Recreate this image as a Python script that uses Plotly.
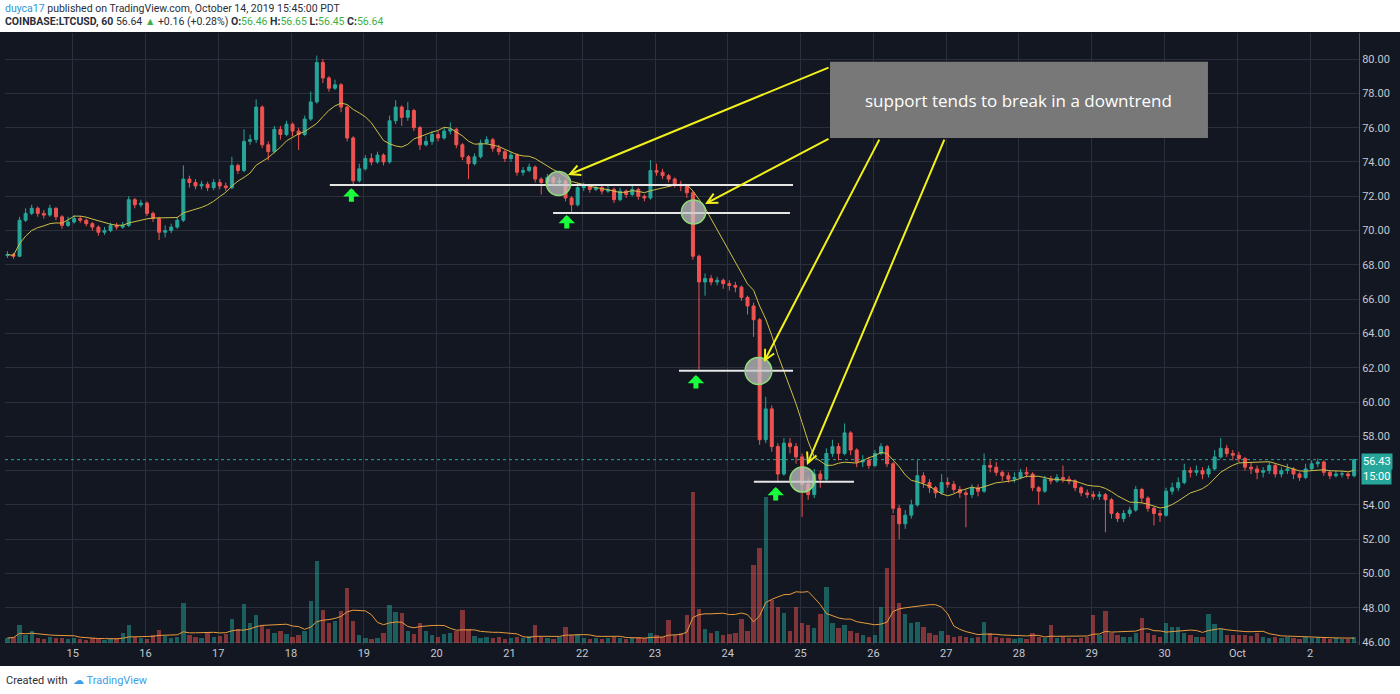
import pandas as pd
import plotly.graph_objects as go

# ---------------- data (2-hour candles, LTCUSD) ----------------
first_open = 68.55
closes = [
    # Sep 14 (02:00 .. 22:00)
    68.6, 68.5, 70.6, 71.0, 71.3, 71.0, 70.9, 71.3, 70.8, 70.3, 70.5,
    # Sep 15
    70.7, 70.6, 70.4, 70.2, 69.9, 70.0, 70.3, 70.2, 70.3, 71.8, 71.5, 71.6,
    # Sep 16
    71.0, 70.7, 69.9, 70.0, 70.2, 70.6, 73.0, 72.8, 72.6, 72.7, 72.5, 72.8,
    # Sep 17
    72.6, 72.5, 73.8, 73.5, 75.2, 75.3, 77.2, 75.0, 74.6, 75.9, 75.6, 76.2,
    # Sep 18
    75.8, 75.6, 76.5, 77.5, 79.8, 78.9, 78.3, 78.5, 77.2, 75.4, 72.9, 73.6,
    # Sep 19
    74.2, 74.0, 74.4, 74.0, 76.4, 77.2, 76.6, 77.0, 76.0, 75.0, 75.2, 75.6,
    # Sep 20
    75.4, 75.8, 75.9, 75.0, 74.3, 73.9, 74.3, 75.1, 75.3, 74.8, 74.6, 74.2,
    # Sep 21
    74.4, 73.4, 73.5, 73.7, 73.0, 72.8, 73.1, 72.8, 72.9, 71.9, 71.5, 72.5,
    # Sep 22
    72.6, 72.4, 72.5, 72.3, 72.4, 71.8, 72.3, 72.1, 72.4, 72.0, 71.9, 73.5,
    # Sep 23
    73.4, 73.2, 73.0, 72.7, 72.6, 72.2, 68.5, 67.0, 67.2, 67.0, 67.1, 66.9,
    # Sep 24
    66.8, 66.7, 66.1, 65.6, 64.8, 57.8, 59.6, 57.4, 55.8, 57.6, 57.4, 56.8,
    # Sep 25
    55.2, 54.6, 55.8, 55.5, 57.0, 57.4, 57.0, 58.2, 57.2, 56.5, 56.6, 56.3,
    # Sep 26
    57.0, 57.4, 56.4, 53.8, 52.9, 53.4, 54.0, 55.7, 55.3, 55.0, 54.7, 55.3,
    # Sep 27
    55.2, 54.9, 54.7, 54.6, 55.0, 54.8, 56.3, 56.2, 55.9, 55.7, 55.5, 55.6,
    # Sep 28
    55.9, 55.8, 55.0, 54.8, 55.5, 55.4, 55.6, 55.5, 55.4, 55.0, 54.7, 54.6,
    # Sep 29
    54.5, 54.6, 54.3, 53.5, 53.2, 53.5, 53.7, 54.9, 54.4, 53.8, 53.5, 53.4,
    # Sep 30
    54.8, 55.0, 55.3, 56.0, 55.9, 56.0, 55.8, 56.1, 56.8, 57.3, 57.0, 56.9,
    # Oct 1
    56.7, 56.2, 56.1, 55.9, 56.0, 56.3, 55.8, 56.0, 56.1, 55.8, 55.6, 56.1,
    # Oct 2 (00:00 .. 14:00)
    56.4, 56.5, 55.9, 55.7, 55.8, 55.8, 55.7, 56.64,
]
highs = [
    68.8, 68.7, 70.8, 71.3, 71.5, 71.4, 71.2, 71.5, 71.35, 70.9, 70.8,
    70.9, 70.85, 70.7, 70.5, 70.3, 70.2, 70.45, 70.45, 70.5, 72.0, 71.9, 71.8,
    71.7, 71.1, 70.8, 70.3, 70.4, 70.8, 73.8, 73.2, 73.0, 72.9, 72.85, 73.0,
    73.0, 72.8, 74.3, 73.9, 75.9, 75.6, 77.65, 77.3, 75.2, 76.1, 76.1, 76.4,
    76.3, 76.0, 76.7, 78.1, 80.2, 80.0, 79.0, 78.8, 78.6, 77.3, 75.5, 73.9,
    74.4, 74.5, 74.6, 74.5, 76.7, 77.6, 77.3, 77.5, 77.1, 76.1, 75.5, 75.8,
    75.8, 76.0, 76.3, 76.0, 75.1, 74.4, 74.5, 75.3, 75.5, 75.4, 75.0, 74.7,
    74.6, 74.5, 73.7, 73.9, 73.8, 73.1, 73.3, 73.2, 73.1, 73.0, 72.0, 72.8,
    72.8, 72.7, 72.7, 72.6, 72.6, 72.5, 72.5, 72.4, 72.6, 72.5, 72.1, 74.1,
    73.9, 73.6, 73.3, 73.1, 72.9, 72.7, 72.3, 68.6, 67.5, 67.4, 67.3, 67.2,
    67.1, 67.0, 66.8, 66.2, 65.8, 64.9, 60.3, 59.8, 57.6, 57.9, 57.9, 57.6,
    57.0, 55.6, 56.1, 56.0, 57.3, 57.8, 57.6, 58.75, 58.3, 57.3, 56.9, 56.8,
    57.2, 57.6, 57.5, 56.5, 54.0, 53.7, 54.3, 56.6, 55.9, 55.5, 55.1, 55.8,
    55.6, 55.4, 55.1, 54.9, 55.2, 55.2, 57.0, 56.6, 56.5, 56.0, 55.9, 55.9,
    56.1, 56.2, 55.9, 55.1, 55.7, 55.7, 55.8, 56.3, 55.7, 55.5, 55.1, 54.9,
    54.8, 54.8, 54.7, 54.4, 53.6, 53.7, 53.9, 55.1, 55.0, 54.5, 53.9, 53.7,
    55.0, 55.3, 55.6, 56.4, 56.2, 56.3, 56.2, 56.3, 57.2, 57.9, 57.5, 57.2,
    57.1, 56.8, 56.5, 56.3, 56.2, 56.5, 56.4, 56.2, 56.4, 56.2, 55.9, 56.4,
    56.6, 56.7, 56.6, 56.0, 56.0, 56.0, 55.9, 56.7,
]
lows = [
    68.4, 68.35, 68.45, 70.5, 70.9, 70.8, 70.7, 70.8, 70.6, 70.1, 70.2,
    70.4, 70.45, 70.25, 70.0, 69.7, 69.75, 69.9, 70.05, 70.1, 70.2, 71.3, 71.35,
    70.85, 70.5, 69.45, 69.6, 69.85, 70.1, 70.5, 72.5, 72.4, 72.4, 72.3, 72.35,
    72.4, 72.3, 72.4, 73.3, 73.4, 75.0, 75.1, 74.8, 74.1, 74.5, 75.3, 75.5,
    75.5, 74.7, 75.5, 76.4, 77.4, 78.6, 78.1, 78.2, 76.9, 75.2, 72.65, 72.8,
    73.5, 73.8, 73.9, 73.8, 73.9, 76.2, 76.1, 76.4, 75.8, 74.7, 74.9, 75.0,
    75.2, 75.3, 75.6, 74.8, 74.1, 73.0, 73.8, 74.2, 75.0, 74.6, 74.4, 74.0,
    74.0, 73.2, 73.2, 73.4, 72.8, 72.1, 72.6, 72.6, 72.6, 71.7, 71.1, 71.4,
    72.3, 72.2, 72.3, 72.1, 72.2, 71.6, 71.7, 71.9, 72.0, 71.8, 71.7, 71.8,
    73.2, 73.0, 72.8, 72.5, 72.3, 71.9, 68.3, 61.9, 66.2, 66.8, 66.8, 66.6,
    66.5, 66.4, 65.9, 65.1, 63.8, 57.5, 57.6, 57.1, 55.3, 55.7, 57.0, 56.4,
    53.3, 54.3, 54.4, 55.0, 55.4, 56.8, 56.6, 56.9, 56.9, 56.2, 56.2, 56.1,
    56.2, 56.9, 56.2, 53.5, 52.0, 52.6, 53.2, 53.9, 55.0, 54.7, 54.4, 54.6,
    55.0, 54.7, 54.4, 52.7, 54.4, 54.5, 54.7, 55.9, 55.7, 55.4, 55.3, 55.3,
    55.5, 55.6, 54.8, 54.0, 54.7, 55.2, 55.3, 55.3, 55.2, 54.8, 54.5, 54.4,
    54.3, 54.3, 52.4, 53.2, 53.0, 53.0, 53.3, 53.6, 54.1, 53.6, 52.8, 53.0,
    53.3, 54.6, 54.8, 55.2, 55.6, 55.7, 55.5, 55.6, 56.0, 56.7, 56.8, 56.6,
    56.5, 56.0, 55.8, 55.5, 55.6, 55.8, 55.6, 55.6, 55.8, 55.5, 55.4, 55.5,
    56.0, 56.2, 55.7, 55.5, 55.6, 55.6, 55.5, 55.6,
]
volumes = [
    5, 6, 18, 8, 12, 5, 4, 6, 5, 5, 4,
    5, 4, 3, 5, 4, 3, 4, 5, 10, 18, 6, 5,
    4, 8, 13, 7, 5, 6, 40, 8, 6, 5, 11, 6,
    7, 9, 24, 14, 39, 20, 28, 18, 14, 10, 12, 9,
    6, 8, 12, 42, 82, 33, 20, 22, 32, 55, 22, 8,
    5, 4, 5, 10, 38, 31, 30, 12, 9, 20, 12, 8,
    6, 9, 10, 12, 33, 14, 7, 5, 6, 5, 6, 4,
    5, 6, 5, 7, 18, 6, 5, 4, 6, 16, 8, 9,
    5, 4, 5, 4, 5, 6, 5, 4, 5, 6, 5, 10,
    8, 6, 23, 8, 10, 28, 151, 34, 14, 10, 12, 8,
    9, 10, 24, 12, 78, 95, 146, 43, 36, 30, 12, 36,
    20, 18, 15, 29, 56, 20, 15, 18, 12, 10, 8, 6,
    8, 36, 75, 128, 40, 29, 20, 21, 16, 10, 8, 12,
    8, 6, 7, 6, 5, 6, 21, 10, 6, 5, 5, 4,
    5, 4, 10, 6, 5, 18, 5, 6, 5, 4, 5, 6,
    28, 8, 32, 10, 8, 6, 6, 10, 25, 10, 8, 6,
    20, 16, 16, 10, 8, 6, 6, 29, 19, 14, 8, 8,
    8, 8, 7, 10, 6, 5, 6, 5, 6, 5, 4, 6,
    5, 6, 5, 4, 5, 4, 4, 6,
]

day_ticks = pd.date_range("2019-09-15", "2019-10-02", freq="D")
day_labels = ["15", "16", "17", "18", "19", "20", "21", "22", "23", "24", "25",
              "26", "27", "28", "29", "30", "Oct", "2"]
price_ticks = [46, 48, 50, 52, 54, 56, 58, 60, 62, 64, 66, 68, 70, 72, 74, 76, 78, 80]
hidden_tick = 56
last_label = "56.43"
last_label_y = 56.55
timer_label = "15:00"

# support lines drawn by the author: (start, end, price)
supports = [
    ("2019-09-18 12:48", "2019-09-24 21:30", 72.65),
    ("2019-09-21 14:24", "2019-09-24 20:30", 71.02),
    ("2019-09-23 07:54", "2019-09-24 21:30", 61.83),
    ("2019-09-24 08:36", "2019-09-25 17:36", 55.35),
]
# highlighted circles: (x0, x1, y0, y1)
circles = [
    ("2019-09-21 12:12", "2019-09-21 20:12", 72.04, 73.44),
    ("2019-09-23 08:42", "2019-09-23 16:42", 70.38, 71.78),
    ("2019-09-24 05:42", "2019-09-24 14:30", 61.02, 62.60),
    ("2019-09-24 20:30", "2019-09-25 04:42", 54.75, 56.21),
]
# green up-arrows: tip (time, price)
green_arrows = [
    ("2019-09-18 19:54", 72.47),
    ("2019-09-21 18:54", 70.90),
    ("2019-09-23 13:30", 61.57),
    ("2019-09-24 15:48", 55.04),
]
# yellow arrows: (tail time, tail price, tip time, tip price)
yellow_arrows = [
    ("2019-09-25 09:42", 79.54, "2019-09-21 19:18", 73.24),
    ("2019-09-25 09:42", 75.39, "2019-09-23 16:30", 71.55),
    ("2019-09-26 02:12", 75.39, "2019-09-24 11:54", 62.33),
    ("2019-09-26 23:36", 75.39, "2019-09-25 02:06", 56.33),
]
note_box = ("2019-09-25 09:42", "2019-09-30 14:18", 75.39, 79.84)
note_text = "support tends to break in a downtrend"
note_pos = ("2019-09-28 00:00", 77.61)

# ---------------- build ----------------
n = min(len(closes), len(highs), len(lows), len(volumes))
closes, highs, lows, volumes = closes[:n], highs[:n], lows[:n], volumes[:n]
opens = [first_open] + closes[:-1]
highs = [max(h, o, c) for h, o, c in zip(highs, opens, closes)]
lows = [min(l, o, c) for l, o, c in zip(lows, opens, closes)]
times = pd.date_range("2019-09-14 02:30", periods=n, freq="2h")

ma = pd.Series(closes).rolling(10, min_periods=1).mean()
vma = pd.Series(volumes).rolling(10, min_periods=1).mean()

UP, DN = "#26a69a", "#ef5350"
BG = "#131722"
GRID = "#2b2f3c"
vol_colors = ["rgba(38,166,154,0.5)" if c >= o else "rgba(239,83,80,0.5)"
              for o, c in zip(opens, closes)]

fig = go.Figure()
fig.add_trace(go.Bar(x=times, y=volumes, marker_color=vol_colors, marker_line_width=0,
                     width=2 * 3600 * 1000 * 0.72, yaxis="y", showlegend=False))
fig.add_trace(go.Scatter(x=times, y=vma, mode="lines", line=dict(color="#e89a3c", width=1),
                         yaxis="y", showlegend=False))
fig.add_trace(go.Candlestick(x=times, open=opens, high=highs, low=lows, close=closes,
                             increasing=dict(line=dict(color=UP, width=1), fillcolor=UP),
                             decreasing=dict(line=dict(color=DN, width=1), fillcolor=DN),
                             whiskerwidth=0, yaxis="y2", showlegend=False))
fig.add_trace(go.Scatter(x=times, y=ma, mode="lines", line=dict(color="#cdbf45", width=1),
                         yaxis="y2", showlegend=False))

shapes = []
# white header/footer bands
shapes.append(dict(type="rect", xref="paper", yref="paper", x0=-0.1, x1=1.1,
                   y0=1.0016, y1=1.2, fillcolor="white", line_width=0, layer="above"))
shapes.append(dict(type="rect", xref="paper", yref="paper", x0=-0.1, x1=1.1,
                   y0=-0.2, y1=-0.0343, fillcolor="white", line_width=0, layer="above"))
# last price dotted line
shapes.append(dict(type="line", xref="paper", yref="y2", x0=0, x1=1, y0=closes[-1], y1=closes[-1],
                   line=dict(color=UP, width=1, dash="dot")))
for x0, x1, y in supports:
    shapes.append(dict(type="line", xref="x", yref="y2", x0=x0, x1=x1, y0=y, y1=y,
                       line=dict(color="#e6e6e6", width=2)))
for x0, x1, y0, y1 in circles:
    shapes.append(dict(type="circle", xref="x", yref="y2", x0=x0, x1=x1, y0=y0, y1=y1,
                       fillcolor="rgba(200,200,200,0.72)", line=dict(color="#8fdc7a", width=1.5)))
shapes.append(dict(type="rect", xref="x", yref="y2", x0=note_box[0], x1=note_box[1],
                   y0=note_box[2], y1=note_box[3], fillcolor="#787878", line_width=0))

annotations = []
for tx, ty in green_arrows:
    annotations.append(dict(x=tx, y=ty, xref="x", yref="y2", text="", showarrow=True,
                            ax=0, ay=15, arrowhead=1, arrowsize=0.55, arrowwidth=5,
                            arrowcolor="#1aff3c", standoff=0))
for axx, ayy, tx, ty in yellow_arrows:
    annotations.append(dict(x=tx, y=ty, xref="x", yref="y2", ax=axx, ay=ayy,
                            axref="x", ayref="y2", text="", showarrow=True,
                            arrowhead=5, arrowsize=1, arrowwidth=2,
                            arrowcolor="#f2f21a", standoff=0))
annotations.append(dict(x=note_pos[0], y=note_pos[1], xref="x", yref="y2", text=note_text,
                        showarrow=False, font=dict(family="Open Sans", size=17, color="white")))
# right-side labels
annotations.append(dict(xref="paper", yref="y2", x=1, y=last_label_y, xanchor="left", xshift=2,
                        text=last_label, showarrow=False, bgcolor=UP, borderpad=1,
                        font=dict(family="Roboto", size=11, color="white")))
annotations.append(dict(xref="paper", yref="y2", x=1, y=last_label_y, xanchor="left", xshift=2,
                        yshift=-15, text=timer_label, showarrow=False, bgcolor=UP, borderpad=1,
                        font=dict(family="Roboto", size=11, color="white")))
# header
hdr_font = dict(family="Roboto", size=10.5, color="#2a2e39")
annotations.append(dict(xref="paper", yref="paper", x=0, y=1.0408, xanchor="left", xshift=-2,
                        yanchor="middle", showarrow=False, font=hdr_font,
                        text='<span style="color:#2e96d6">duyca17</span> published on '
                             'TradingView.com, October 14, 2019 15:45:00 PDT'))
g = "#3cb043"
annotations.append(dict(xref="paper", yref="paper", x=0, y=1.0192, xanchor="left", xshift=-2,
                        yanchor="middle", showarrow=False, font=hdr_font,
                        text=f'<b>COINBASE:LTCUSD, 60</b> {closes[-1]:.2f} '
                             f'<span style="color:{g}">▲</span> +0.16 (+0.28%) '
                             f'<b>O:</b><span style="color:{g}">56.46</span> '
                             f'<b>H:</b><span style="color:{g}">56.65</span> '
                             f'<b>L:</b><span style="color:{g}">56.45</span> '
                             f'<b>C:</b><span style="color:{g}">{closes[-1]:.2f}</span>'))
# footer
annotations.append(dict(xref="paper", yref="paper", x=0, y=-0.0572, xanchor="left", xshift=-1,
                        yanchor="middle", showarrow=False, font=dict(family="Roboto", size=11, color="#2a2e39"),
                        text='Created with  <span style="color:#3d9ee8">☁ TradingView</span>'))

fig.update_layout(
    width=1400, height=694,
    margin=dict(l=5, r=41, t=33, b=49),
    paper_bgcolor=BG, plot_bgcolor=BG,
    showlegend=False, bargap=0,
    shapes=shapes, annotations=annotations,
    xaxis=dict(type="date",
               range=[pd.Timestamp("2019-09-15") - pd.Timedelta(hours=22.3),
                      pd.Timestamp("2019-09-15") + pd.Timedelta(hours=424.1)],
               tickvals=day_ticks, ticktext=day_labels, showgrid=True, gridcolor=GRID,
               gridwidth=1, zeroline=False, showline=False, ticks="",
               tickfont=dict(family="Roboto", size=11, color="#c5c8ce"),
               rangeslider=dict(visible=False)),
    yaxis=dict(range=[-2, 610], visible=False, showgrid=False, zeroline=False),
    yaxis2=dict(overlaying="y", side="right", range=[45.83, 81.52],
                tickvals=price_ticks,
                ticktext=["" if v == hidden_tick else f"{v:.2f}" for v in price_ticks],
                showgrid=True, gridcolor=GRID, gridwidth=1, zeroline=False,
                showline=True, linecolor="#4a4e5a", linewidth=1, ticks="",
                tickfont=dict(family="Roboto", size=11, color="#c5c8ce")),
)

fig.write_html("out.html", config={"displayModeBar": False},
               post_script="document.body.style.margin='0';document.body.style.overflow='hidden';")
